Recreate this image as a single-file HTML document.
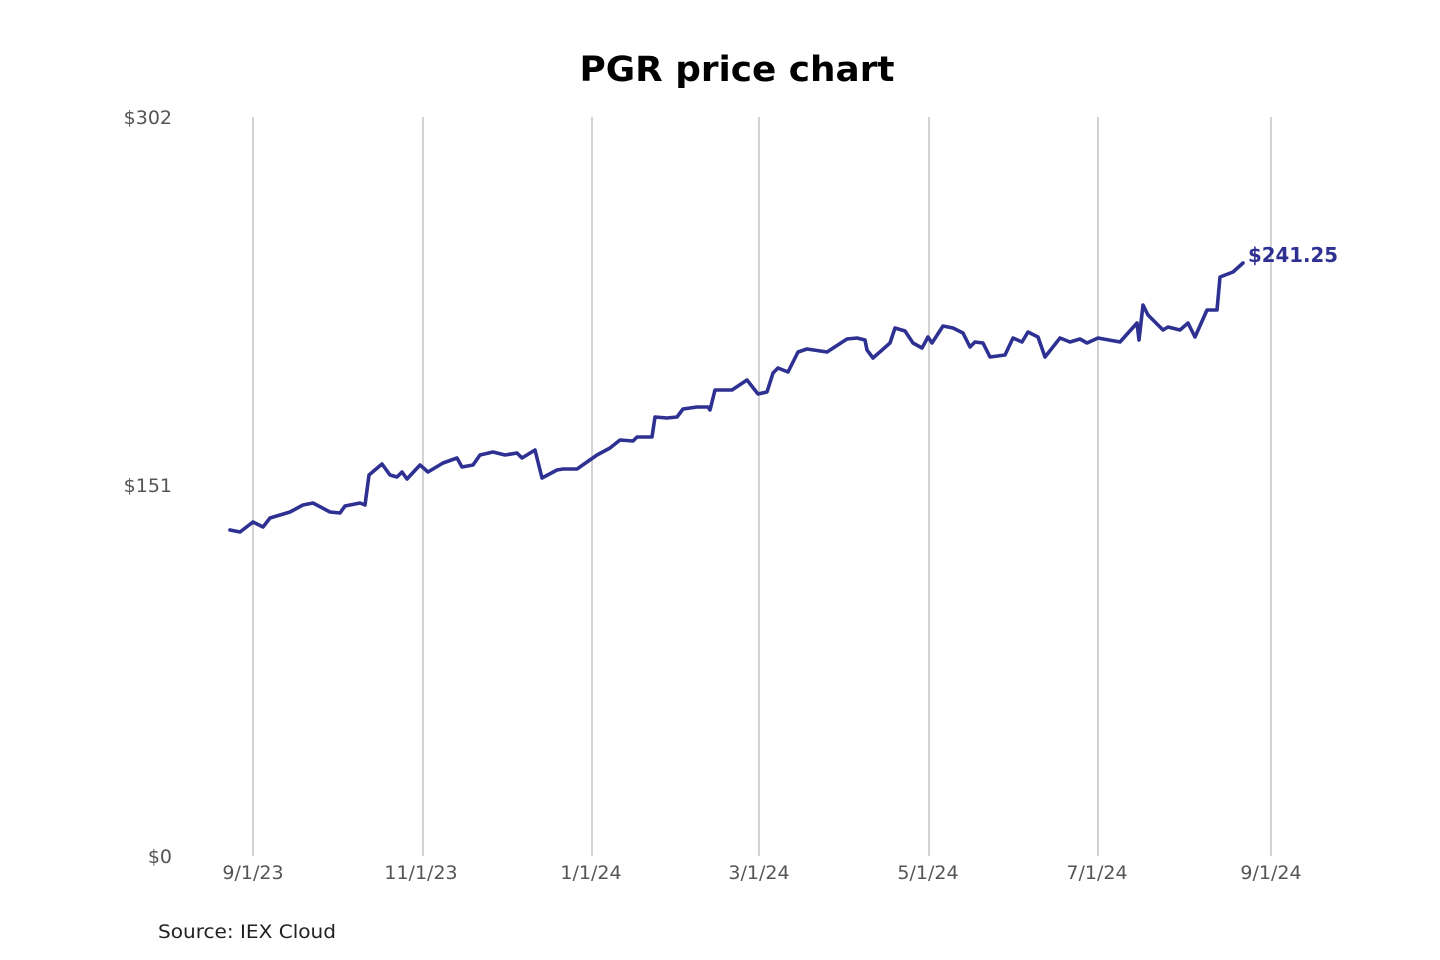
<!DOCTYPE html>
<html><head><meta charset="utf-8"><style>
html,body{margin:0;padding:0;background:#fff;}
svg{display:block;font-family:"DejaVu Sans","Liberation Sans",sans-serif;}
</style></head><body>
<svg width="1440" height="960" viewBox="0 0 1440 960" xmlns="http://www.w3.org/2000/svg">
<text x="737" y="81" text-anchor="middle" font-size="35" font-weight="bold" fill="#000" textLength="315" lengthAdjust="spacingAndGlyphs">PGR price chart</text>
<g stroke="#bbb" stroke-width="1.3">
<line x1="253" y1="117" x2="253" y2="856"/>
<line x1="423" y1="117" x2="423" y2="856"/>
<line x1="592" y1="117" x2="592" y2="856"/>
<line x1="759" y1="117" x2="759" y2="856"/>
<line x1="929" y1="117" x2="929" y2="856"/>
<line x1="1098" y1="117" x2="1098" y2="856"/>
<line x1="1271" y1="117" x2="1271" y2="856"/>
</g>
<g font-size="19" fill="#555" text-anchor="end">
<text x="172" y="124">$302</text>
<text x="172" y="492">$151</text>
<text x="172" y="863">$0</text>
</g>
<g font-size="19" fill="#555" text-anchor="middle">
<text x="253" y="879">9/1/23</text>
<text x="421" y="879">11/1/23</text>
<text x="591" y="879">1/1/24</text>
<text x="759" y="879">3/1/24</text>
<text x="928" y="879">5/1/24</text>
<text x="1097" y="879">7/1/24</text>
<text x="1271" y="879">9/1/24</text>
</g>
<text x="158" y="938" font-size="19" fill="#222" textLength="178" lengthAdjust="spacingAndGlyphs">Source: IEX Cloud</text>
<polyline fill="none" stroke="#2e3192" stroke-width="3.6" stroke-linejoin="round" stroke-linecap="round" points="
230,530 240,532 253,522 263,527 270,518 290,512 303,505 313,503 330,512 340,513 345,506 360,503 365,505 369,475 382,464 390,475 397,477 402,472 407,479 420,465 428,472 443,463 457,458 462,467 473,465 480,455 493,452 505,455 517,453 522,458 535,450 542,478 557,470 563,469 577,469 597,455 610,448 620,440 633,441 637,437 652,437 655,417 667,418 677,417 683,409 697,407 708,407 710,410 715,390 732,390 747,380 758,394 767,392 773,373 778,368 788,372 798,352 807,349 827,352 847,339 857,338 865,340 867,350 873,358 890,343 895,328 905,331 913,343 922,348 928,337 932,343 943,326 953,328 963,333 970,347 975,342 983,343 990,357 1005,355 1013,338 1022,342 1028,332 1038,337 1045,357 1060,338 1070,342 1080,339 1087,343 1098,338 1120,342 1137,323 1139,340 1143,305 1148,315 1163,330 1168,327 1180,330 1188,323 1195,337 1207,310 1217,310 1220,277 1233,272 1243,263"/>
<text x="1248" y="262" font-size="20" font-weight="bold" fill="#2e3192" textLength="90" lengthAdjust="spacingAndGlyphs">$241.25</text>
</svg>
</body></html>
